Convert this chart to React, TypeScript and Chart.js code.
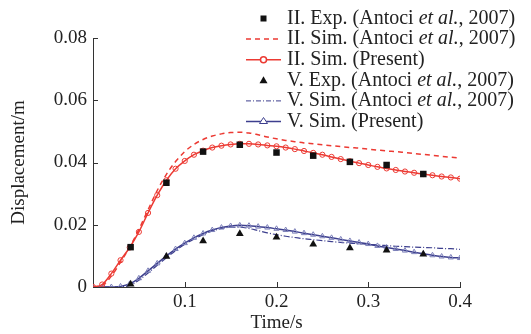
import React, { useEffect, useRef } from "react";
import { Chart, registerables } from "chart.js";
Chart.register(...registerables);

const simTime = [0, 0.01, 0.02, 0.03, 0.04, 0.05, 0.06, 0.07, 0.08, 0.09, 0.1, 0.11, 0.12, 0.13, 0.14, 0.15, 0.16, 0.17, 0.18, 0.19, 0.2, 0.21, 0.22, 0.23, 0.24, 0.25, 0.26, 0.27, 0.28, 0.29, 0.3, 0.31, 0.32, 0.33, 0.34, 0.35, 0.36, 0.37, 0.38, 0.39, 0.4];
const simIIPresent = [0, 0.0008, 0.0043, 0.0086, 0.0127, 0.0177, 0.0238, 0.0295, 0.0343, 0.038, 0.0405, 0.0425, 0.0438, 0.0448, 0.0454, 0.0458, 0.046, 0.046, 0.0458, 0.0455, 0.0452, 0.0448, 0.0443, 0.0437, 0.0431, 0.0425, 0.0418, 0.0411, 0.0404, 0.0398, 0.0392, 0.0386, 0.0381, 0.0376, 0.0371, 0.0367, 0.0363, 0.0359, 0.0355, 0.0352, 0.0348];
const simIIAntoci = [0, 0.0005, 0.0035, 0.008, 0.0128, 0.0185, 0.0248, 0.031, 0.0362, 0.0403, 0.0435, 0.0458, 0.0474, 0.0485, 0.0492, 0.0496, 0.0497, 0.0495, 0.0489, 0.0482, 0.0476, 0.0471, 0.0467, 0.0463, 0.046, 0.0457, 0.0454, 0.0451, 0.0448, 0.0446, 0.0443, 0.044, 0.0437, 0.0435, 0.0432, 0.0429, 0.0426, 0.0423, 0.042, 0.0417, 0.0414];
const simVPresent = [0, 0, 0, 0.0002, 0.001, 0.0028, 0.0052, 0.0076, 0.01, 0.0122, 0.0141, 0.0158, 0.0172, 0.0183, 0.0191, 0.0196, 0.0198, 0.0197, 0.0194, 0.0191, 0.0187, 0.0183, 0.0178, 0.0173, 0.0168, 0.0163, 0.0158, 0.0153, 0.0148, 0.0143, 0.0138, 0.0132, 0.0127, 0.0122, 0.0117, 0.0112, 0.0107, 0.0102, 0.0098, 0.0095, 0.0093];
const simVAntoci = [0, 0, 0, 0.0001, 0.0005, 0.0022, 0.0045, 0.007, 0.0094, 0.0117, 0.0137, 0.0154, 0.0168, 0.018, 0.0188, 0.0192, 0.0192, 0.0188, 0.0181, 0.0174, 0.0168, 0.0163, 0.0159, 0.0155, 0.0152, 0.0149, 0.0146, 0.0143, 0.0141, 0.0139, 0.0137, 0.0135, 0.0133, 0.0131, 0.013, 0.0128, 0.0127, 0.0126, 0.0124, 0.0123, 0.0121];
const expTime = [0.041, 0.08, 0.12, 0.16, 0.2, 0.24, 0.28, 0.32, 0.36];
const expII = [0.0128, 0.0335, 0.0435, 0.0457, 0.0432, 0.0422, 0.0402, 0.0392, 0.0363];
const expV = [0.0009, 0.0098, 0.0148, 0.0171, 0.016, 0.0137, 0.0125, 0.0118, 0.0105];
const xTicks = [0.1, 0.2, 0.3, 0.4];
const yTicks = [0, 0.02, 0.04, 0.06, 0.08];
const legendLabels = [
  ["II. Exp. (Antoci ", "et al.", ", 2007)"],
  ["II. Sim. (Antoci ", "et al.", ", 2007)"],
  ["II. Sim. (Present)", "", ""],
  ["V. Exp. (Antoci ", "et al.", ", 2007)"],
  ["V. Sim. (Antoci ", "et al.", ", 2007)"],
  ["V. Sim. (Present)", "", ""],
];

const RED = "#ec3a33";
const BLUE = "#3d3f8e";
const INK = "#222222";
const FONT = "'Liberation Serif', 'Times New Roman', serif";

const pts = (xs: number[], ys: number[]) => xs.map((x, i) => ({ x, y: ys[i] }));

export default function App() {
  const ref = useRef<HTMLCanvasElement | null>(null);
  useEffect(() => {
    const canvas = ref.current!;
    const tickPlugin = {
      id: "innerTicksLegend",
      afterDraw(chart: any) {
        const ctx = chart.ctx as CanvasRenderingContext2D;
        const xs = chart.scales.x;
        const ys = chart.scales.y;
        const area = chart.chartArea;
        ctx.save();
        ctx.strokeStyle = "#333";
        ctx.lineWidth = 1;
        ctx.beginPath();
        xTicks.forEach((t) => {
          const px = Math.round(xs.getPixelForValue(t)) + 0.5;
          ctx.moveTo(px, area.bottom);
          ctx.lineTo(px, area.bottom - 5);
        });
        yTicks.forEach((t) => {
          const py = Math.round(ys.getPixelForValue(t)) + 0.5;
          ctx.moveTo(area.left, py);
          ctx.lineTo(area.left + 5, py);
        });
        ctx.stroke();

        // legend
        const x0 = 246, x1 = 281, mx = 263.5, tx = 287;
        legendLabels.forEach((parts, i) => {
          const y = 18.5 + i * 20.6;
          ctx.save();
          if (i === 0) {
            ctx.fillStyle = "#111";
            ctx.fillRect(mx - 3, y - 3, 6, 6);
          } else if (i === 3) {
            ctx.fillStyle = "#111";
            ctx.beginPath();
            ctx.moveTo(mx, y - 4);
            ctx.lineTo(mx + 4, y + 3);
            ctx.lineTo(mx - 4, y + 3);
            ctx.closePath();
            ctx.fill();
          } else {
            const color = i < 3 ? RED : BLUE;
            ctx.strokeStyle = color;
            ctx.lineWidth = i === 4 ? 1 : 1.5;
            if (i === 1) ctx.setLineDash([5, 4]);
            if (i === 4) ctx.setLineDash([5, 2, 1, 2]);
            ctx.beginPath();
            ctx.moveTo(x0, y);
            ctx.lineTo(x1, y);
            ctx.stroke();
            ctx.setLineDash([]);
            if (i === 2) {
              ctx.fillStyle = "#fff";
              ctx.beginPath();
              ctx.arc(mx, y, 3, 0, Math.PI * 2);
              ctx.fill();
              ctx.stroke();
            }
            if (i === 5) {
              ctx.fillStyle = "#fff";
              ctx.lineWidth = 1;
              ctx.beginPath();
              ctx.moveTo(mx, y - 4);
              ctx.lineTo(mx + 4, y + 2);
              ctx.lineTo(mx - 4, y + 2);
              ctx.closePath();
              ctx.fill();
              ctx.stroke();
            }
          }
          ctx.restore();
          ctx.fillStyle = INK;
          ctx.textBaseline = "middle";
          ctx.textAlign = "left";
          let cx = tx;
          parts.forEach((p, k) => {
            if (!p) return;
            ctx.font = (k === 1 ? "italic " : "") + "20px " + FONT;
            ctx.fillText(p, cx, y);
            cx += ctx.measureText(p).width;
          });
        });
        ctx.restore();
      },
    };

    const chart = new Chart(canvas, {
      type: "scatter",
      data: {
        datasets: [
          {
            label: "II. Exp.",
            data: pts(expTime, expII),
            showLine: false,
            pointStyle: "rect",
            pointRadius: 4.6,
            backgroundColor: "#111",
            borderColor: "#111",
            borderWidth: 0,
            order: 0,
          },
          {
            label: "V. Exp.",
            data: pts(expTime, expV),
            showLine: false,
            pointStyle: "triangle",
            pointRadius: 4.5,
            backgroundColor: "#111",
            borderColor: "#111",
            borderWidth: 0,
            order: 0,
          },
          {
            label: "II. Sim. (Antoci)",
            data: pts(simTime, simIIAntoci),
            showLine: true,
            pointRadius: 0,
            borderColor: RED,
            borderWidth: 1.5,
            borderDash: [5, 4],
            cubicInterpolationMode: "monotone",
            order: 2,
          },
          {
            label: "II. Sim. (Present)",
            data: pts(simTime, simIIPresent),
            showLine: true,
            pointStyle: "circle",
            pointRadius: 2.6,
            pointBackgroundColor: "rgba(255,255,255,0)",
            pointBorderColor: RED,
            pointBorderWidth: 1,
            borderColor: RED,
            borderWidth: 1.5,
            cubicInterpolationMode: "monotone",
            order: 1,
          },
          {
            label: "V. Sim. (Antoci)",
            data: pts(simTime, simVAntoci),
            showLine: true,
            pointRadius: 0,
            borderColor: BLUE,
            borderWidth: 1.2,
            borderDash: [6, 2, 1, 2],
            cubicInterpolationMode: "monotone",
            order: 2,
          },
          {
            label: "V. Sim. (Present)",
            data: pts(simTime, simVPresent),
            showLine: true,
            pointStyle: "triangle",
            pointRadius: 3,
            pointBackgroundColor: "rgba(255,255,255,0)",
            pointBorderColor: "#7b7fb8",
            pointBorderWidth: 1,
            borderColor: BLUE,
            borderWidth: 1.5,
            cubicInterpolationMode: "monotone",
            order: 1,
          },
        ],
      },
      options: {
        animation: false,
        responsive: false,
        devicePixelRatio: 1,
        layout: { padding: { top: 38, right: 71, left: 0, bottom: 0 } },
        plugins: { legend: { display: false }, tooltip: { enabled: false } },
        scales: {
          x: {
            type: "linear",
            min: 0,
            max: 0.4,
            afterFit: (s: any) => { s.height = 47; },
            afterBuildTicks: (s: any) => { s.ticks = [0, ...xTicks].map((v) => ({ value: v })); },
            grid: { display: true, drawOnChartArea: false, drawTicks: false },
            border: { display: true, color: "#333", width: 1 },
            ticks: {
              padding: 4,
              color: INK,
              font: { family: FONT, size: 19 },
              callback: (v: any) => (v === 0 ? "" : Number(v).toFixed(1)),
            },
            title: {
              display: true,
              text: "Time/s",
              color: INK,
              font: { family: FONT, size: 19 },
              padding: { top: 0, bottom: 0 },
            },
          },
          y: {
            type: "linear",
            min: 0,
            max: 0.08,
            afterFit: (s: any) => { s.width = 93; },
            afterBuildTicks: (s: any) => { s.ticks = yTicks.map((v) => ({ value: v })); },
            grid: { display: true, drawOnChartArea: false, drawTicks: false },
            border: { display: true, color: "#333", width: 1 },
            ticks: {
              padding: 6,
              color: INK,
              font: { family: FONT, size: 19 },
              callback: (v: any) => (v === 0 ? "0" : Number(v).toFixed(2)),
            },
            title: {
              display: true,
              text: "Displacement/m",
              color: INK,
              font: { family: FONT, size: 19 },
              padding: { top: 8, bottom: 0 },
            },
          },
        },
      },
      plugins: [tickPlugin],
    } as any);
    return () => chart.destroy();
  }, []);
  return (
    <div style={{ position: "fixed", left: 0, top: 0, width: 531, height: 334, background: "#fff" }}>
      <canvas ref={ref} width={531} height={334} style={{ display: "block", width: 531, height: 334 }} />
    </div>
  );
}
